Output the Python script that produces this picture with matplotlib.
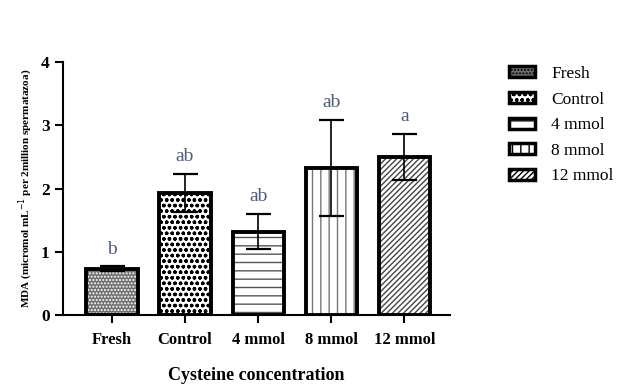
import numpy as np
import matplotlib.pyplot as plt
from matplotlib.patches import Patch

plt.rcParams['font.family'] = ['Liberation Serif', 'DejaVu Serif']
plt.rcParams['hatch.linewidth'] = 1.0

groups = ['Fresh', 'Control', '4 mmol', '8 mmol', '12 mmol']
means = [0.73, 1.93, 1.32, 2.32, 2.50]
errs = [0.04, 0.30, 0.28, 0.76, 0.37]
letters = ['b', 'ab', 'ab', 'ab', 'a']
hatches = ['.....', 'ooo', '--', '||', '//////']
fills = ['#6e6e6e', 'white', 'white', 'white', 'white']
hatch_cols = ['white', 'black', '#555555', '#777777', '#444444']

fig = plt.figure(figsize=(6.33, 3.88), dpi=100)
ax = fig.add_axes([0.0995, 0.188, 0.612, 0.652])

x = np.arange(len(groups))
w = 0.7
# hatch layer, then thick black outline
for i in range(len(groups)):
    ax.bar(x[i], means[i], w, color=fills[i], hatch=hatches[i],
           edgecolor=hatch_cols[i], linewidth=0, zorder=2)
ax.bar(x, means, w, fill=False, edgecolor='black', linewidth=2.8, zorder=3)
ax.errorbar(x, means, yerr=errs, fmt='none', ecolor='black', elinewidth=1.2,
            capsize=9, capthick=1.6, zorder=4)

for i in range(len(groups)):
    ax.text(x[i], means[i] + errs[i] + 0.14, letters[i], ha='center', va='bottom',
            fontsize=14, color='#4f5b7a')

ax.set_xlim(-0.67, 4.63)
ax.set_ylim(0, 4)
ax.set_yticks([0, 1, 2, 3, 4])
ax.set_xticks(x)
ax.set_xticklabels(groups, fontweight='bold', fontsize=12)
for lbl in ax.get_yticklabels():
    lbl.set_fontweight('bold')
    lbl.set_fontsize(12.5)
ax.spines['top'].set_visible(False)
ax.spines['right'].set_visible(False)
ax.spines['left'].set_linewidth(1.5)
ax.spines['bottom'].set_linewidth(1.5)
ax.tick_params(width=1.5, length=6)
ax.tick_params(axis='x', pad=6)
ax.set_xlabel('Cysteine concentration', fontweight='bold', fontsize=13, labelpad=14)
ax.set_ylabel('MDA (micromol mL$^{-1}$ per 2million spermatazoa)', fontweight='bold',
              fontsize=8, labelpad=4)

handles = [Patch(facecolor=fills[i], hatch=hatches[i], edgecolor='black', linewidth=2.5)
           for i in range(len(groups))]
fig.legend(handles, groups, loc='upper left', bbox_to_anchor=(0.78, 0.87),
           frameon=False, fontsize=12.5, handlelength=1.5, handleheight=0.6,
           labelspacing=0.55, handletextpad=0.9)

fig.savefig('out.png', dpi=100)
